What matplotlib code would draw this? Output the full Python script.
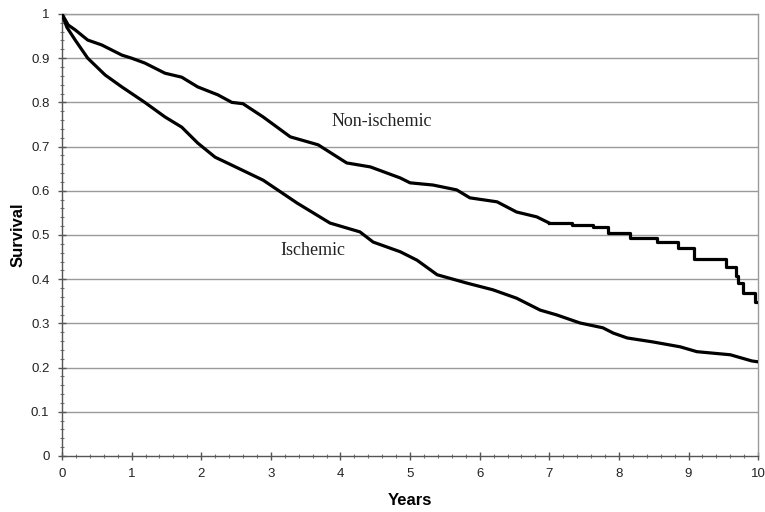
import matplotlib
matplotlib.use("Agg")
import matplotlib.pyplot as plt
from matplotlib.ticker import MultipleLocator

# Ischemic survival curve (years, survival)
isch_t = [0, 0.07, 0.19, 0.37, 0.62, 0.86, 1.19, 1.48, 1.72, 1.95, 2.2, 2.44, 2.89,
          3.38, 3.85, 4.28, 4.47, 4.86, 5.1, 5.39, 5.82, 6.19, 6.53, 6.87, 7.11, 7.44,
          7.77, 7.92, 8.12, 8.49, 8.88, 9.12, 9.6, 9.91, 10.0]
isch_s = [1.0, 0.97, 0.941, 0.90, 0.862, 0.835, 0.80, 0.767, 0.744, 0.708, 0.676, 0.658, 0.624,
          0.572, 0.527, 0.507, 0.484, 0.462, 0.443, 0.41, 0.391, 0.376, 0.357, 0.33, 0.319, 0.301,
          0.29, 0.278, 0.267, 0.258, 0.247, 0.236, 0.229, 0.215, 0.213]

# Non-ischemic survival curve, early part (years, survival)
nonisch_t = [0, 0.09, 0.19, 0.37, 0.57, 0.86, 1.0, 1.19, 1.48, 1.72, 1.95, 2.24, 2.44, 2.6,
             2.89, 3.28, 3.68, 4.09, 4.43, 4.86, 5.0, 5.33, 5.67, 5.86, 6.25, 6.53, 6.82, 7.0]
nonisch_s = [1.0, 0.975, 0.964, 0.941, 0.93, 0.907, 0.90, 0.889, 0.866, 0.857, 0.835, 0.817, 0.80, 0.797,
             0.767, 0.722, 0.704, 0.663, 0.654, 0.629, 0.618, 0.613, 0.602, 0.584, 0.575, 0.552, 0.541, 0.527]

# Non-ischemic survival curve, late step part (event times, survival after step)
nonisch_step_t = [7.0, 7.32, 7.63, 7.84, 8.16, 8.55, 8.85, 9.08, 9.54, 9.68, 9.71, 9.78, 9.96, 10.0]
nonisch_step_s = [0.527, 0.522, 0.517, 0.505, 0.494, 0.485, 0.471, 0.445, 0.427, 0.407, 0.391, 0.369, 0.348, 0.348]

x_ticks = list(range(0, 11))
y_ticks = [0, 0.1, 0.2, 0.3, 0.4, 0.5, 0.6, 0.7, 0.8, 0.9, 1]
y_tick_labels = ["0", "0.1", "0.2", "0.3", "0.4", "0.5", "0.6", "0.7", "0.8", "0.9", "1"]

fig = plt.figure(figsize=(7.65, 5.12), dpi=100)
ax = fig.add_axes([0.081, 0.1094, 0.91, 0.8633])

for y in y_ticks[1:]:
    ax.axhline(y, color="#9a9a9a", lw=1.0, zorder=1)

ax.plot(isch_t, isch_s, color="black", lw=2.3, zorder=3, solid_joinstyle="round")
ax.plot(nonisch_t, nonisch_s, color="black", lw=2.3, zorder=3, solid_joinstyle="round")
ax.plot(nonisch_step_t, nonisch_step_s, color="black", lw=2.3, zorder=3, drawstyle="steps-post")

ax.set_xlim(0, 10)
ax.set_ylim(0, 1)
ax.set_xticks(x_ticks)
ax.set_xticklabels([str(v) for v in x_ticks])
ax.set_yticks(y_ticks)
ax.set_yticklabels(y_tick_labels)
ax.xaxis.set_minor_locator(MultipleLocator(0.2))
ax.yaxis.set_minor_locator(MultipleLocator(0.02))

for side in ["left", "bottom"]:
    ax.spines[side].set_color("#555555")
    ax.spines[side].set_linewidth(1.0)
for side in ["top", "right"]:
    ax.spines[side].set_color("#9a9a9a")
    ax.spines[side].set_linewidth(1.0)

ax.tick_params(axis="both", which="major", direction="inout", length=6, width=1,
               color="#555555", labelsize=9.5, pad=6, labelcolor="#222222")
ax.tick_params(axis="both", which="minor", direction="inout", length=3, width=0.8,
               color="#777777")
ax.tick_params(top=False, right=False, which="both")
for lab in ax.get_xticklabels() + ax.get_yticklabels():
    lab.set_family("Liberation Sans")

ax.set_xlabel("Years", fontsize=12, fontweight="bold", family="Liberation Sans")
ax.set_ylabel("Survival", fontsize=12, fontweight="bold", family="Liberation Sans")
ax.xaxis.set_label_coords(0.5, -0.083)
ax.yaxis.set_label_coords(-0.053, 0.5)

ax.text(4.6, 0.757, "Non-ischemic", fontsize=13, family="Liberation Serif",
        ha="center", va="center", color="#222222")
ax.text(3.6, 0.466, "Ischemic", fontsize=13, family="Liberation Serif",
        ha="center", va="center", color="#222222")

fig.savefig("out.png", dpi=100)
